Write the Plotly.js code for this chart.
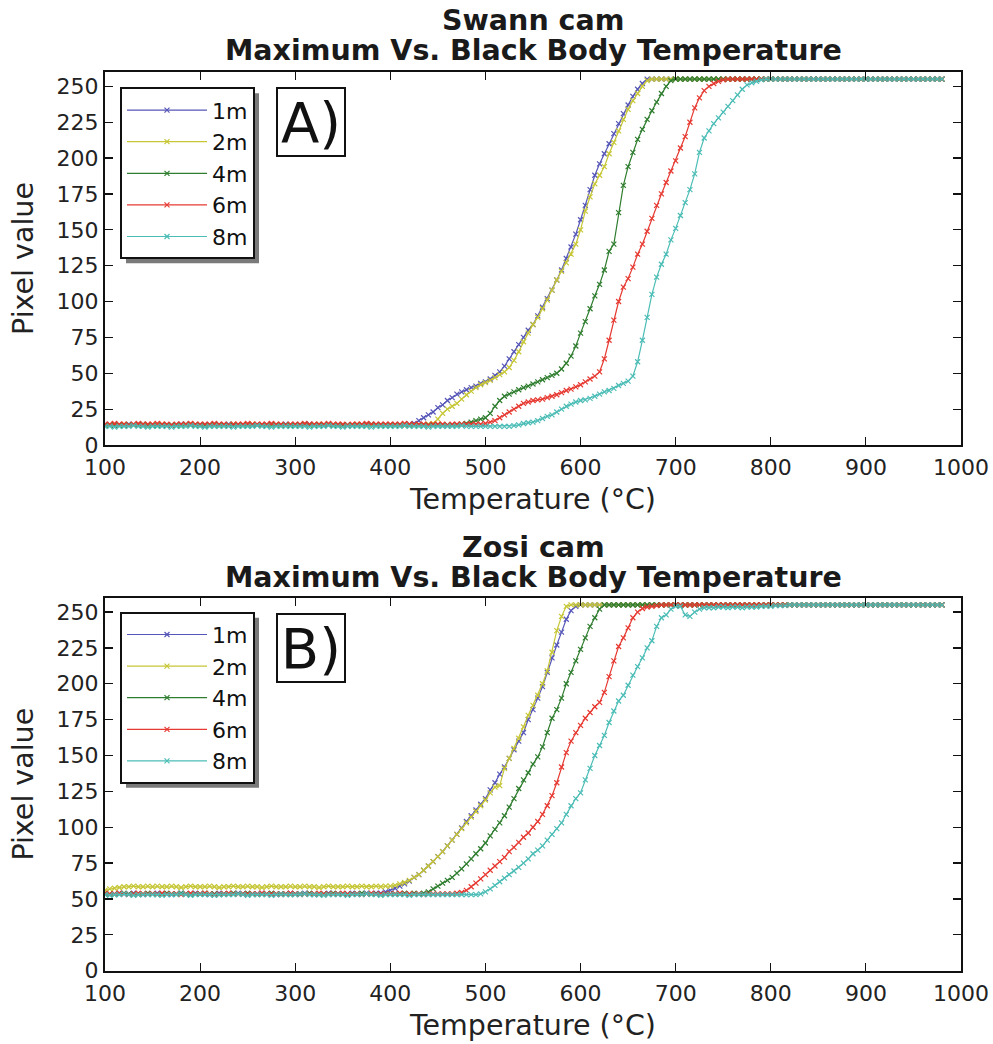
<!DOCTYPE html>
<html><head><meta charset="utf-8">
<script src="https://cdn.plot.ly/plotly-3.0.1.min.js"></script>
<style>html,body{margin:0;padding:0;background:#fff}#chart{width:993px;height:1044px}</style>
</head><body><div id="chart"></div>
<script>
// Temperature (°C), one reading every 5 °C
const temperature = [
100,105,110,115,120,125,130,135,140,145,
150,155,160,165,170,175,180,185,190,195,
200,205,210,215,220,225,230,235,240,245,
250,255,260,265,270,275,280,285,290,295,
300,305,310,315,320,325,330,335,340,345,
350,355,360,365,370,375,380,385,390,395,
400,405,410,415,420,425,430,435,440,445,
450,455,460,465,470,475,480,485,490,495,
500,505,510,515,520,525,530,535,540,545,
550,555,560,565,570,575,580,585,590,595,
600,605,610,615,620,625,630,635,640,645,
650,655,660,665,670,675,680,685,690,695,
700,705,710,715,720,725,730,735,740,745,
750,755,760,765,770,775,780,785,790,795,
800,805,810,815,820,825,830,835,840,845,
850,855,860,865,870,875,880,885,890,895,
900,905,910,915,920,925,930,935,940,945,
950,955,960,965,970,975,980];

const seriesNames = ["1m", "2m", "4m", "6m", "8m"];
const seriesColors = ["#5656b8", "#c6c636", "#2f7d2f", "#e63a32", "#4cbdb6"];

// ---------- A) Swann cam ----------
const swann1m = [
14,14,13.5,14,14,14.5,14,14,13.5,14,
14,14,14,13.5,14,14,14.5,14,14,14,
14,13.5,14,14,14,14,14.5,14,14,14,
14,14,14,14,13.5,14,14,14,14.5,14,
14,14,14,14.5,14,14,13.5,14,14,14,
14,14,14,14,14,14.5,14,14,14,14,
14,14,14,14,14.5,15,17,19,21,23,
26,28,31,33,35.5,37,38.5,40,41,43,
44,46,48.5,51,55,60,65,70,75,80,
84,90,96,102,108,115,122,130,138,147,
157,167,178,188,196,203,210,217,224,231,
237,243,248,252,255,255,255,255,255,255,
255,255,255,255,255,255,255,255,255,255,
255,255,255,255,255,255,255,255,255,255,
255,255,255,255,255,255,255,255,255,255,
255,255,255,255,255,255,255,255,255,255,
255,255,255,255,255,255,255,255,255,255,
255,255,255,255,255,255,255];
const swann2m = [
13.5,14,14,14,14.5,14,14,14,14,13.5,
14,14,14.5,14,14,14,13.5,14,14,14,
14,14,14,14,13.5,14,14,14.5,14,14,
14,14.5,14,14,14,14,14,13.5,14,14,
14,14,14,14,14,14.5,14,14,14,13.5,
14,14,14,14.5,14,14,14,14,14,14,
14,14,14,14,14,14,14,14,14.5,15,
18,22,25,27,29,32,35,37.5,40,42,
43.5,45,47,49,51,54,59,65,72,78,
84,89,95,101,108,115,121,127,133,140,
150,163,173,182,188,194,203,211,219,227,
234,240,245,250,254,255,255,255,255,255,
255,255,255,255,255,255,255,255,255,255,
255,255,255,255,255,255,255,255,255,255,
255,255,255,255,255,255,255,255,255,255,
255,255,255,255,255,255,255,255,255,255,
255,255,255,255,255,255,255,255,255,255,
255,255,255,255,255,255,255];
const swann4m = [
14,14,14,14,13.5,14,14,14,14.5,14,
14,13.5,14,14,14,14,14,14.5,14,14,
14,14,14,14.5,14,14,13.5,14,14,14,
14,14,14,14,14,14.5,14,14,14,13.5,
14,14,14.5,14,14,14,14,14,13.5,14,
14,14,14,14,14,14,14.5,14,14,14,
14,14,14,13.5,14,14,14,14,14,14,
14,14,14,14,14,14.5,15,16,17,18,
19,22,27,31,34,35.5,37,38.5,40,41,
42.5,44,45.5,47,48.5,50,53,57,62,69,
78,86,95,104,112,122,135,140,162,181,
194,204,213,220,227,233,239,245,250,254,
255,255,255,255,255,255,255,255,255,255,
255,255,255,255,255,255,255,255,255,255,
255,255,255,255,255,255,255,255,255,255,
255,255,255,255,255,255,255,255,255,255,
255,255,255,255,255,255,255,255,255,255,
255,255,255,255,255,255,255];
const swann6m = [
14.5,14.5,15,14.5,14.5,14,14.5,15,14.5,14.5,
14.5,15,14.5,14.5,14,14.5,14.5,14.5,15,14.5,
14.5,14.5,14.5,15,14.5,14.5,14,14.5,14.5,14.5,
15,14.5,14.5,14.5,14.5,15,14.5,14.5,14,14.5,
14.5,14.5,15,14.5,14.5,14.5,14.5,15,14.5,14.5,
14.5,14,14.5,14.5,14.5,15,14.5,14.5,14.5,14.5,
14.5,14.5,14.5,15,14.5,14.5,14.5,14.5,14,14.5,
14.5,14.5,14,14.5,14.5,14.5,14.5,14.5,14.5,14.5,
15,16,17,19,21,23,25,27,29,30,
31,31.5,32,33,34,35,36.5,38,39,40.5,
42,44,46,48,51,60,73,87,100,110,
116,124,133,140,149,158,167,175,183,191,
198,207,215,225,235,242,247,250,252,253.5,
254.5,255,255,255,255,255,255,255,255,255,
255,255,255,255,255,255,255,255,255,255,
255,255,255,255,255,255,255,255,255,255,
255,255,255,255,255,255,255,255,255,255,
255,255,255,255,255,255,255];
const swann8m = [
13,13,12.5,13,13,13,13.5,13,13,12.5,
13,13,13,13,12.5,13,13,13,13.5,13,
13,12.5,13,13,13,13,13,12.5,13,13,
13,13,13.5,13,13,12.5,13,13,13,13,
13,13,13,12.5,13,13,13,13.5,13,13,
12.5,13,13,13,13,13,12.5,13,13,13,
13,13,13,13.5,13,13,13,13,12.5,13,
13,13,13,13,13,13.5,13,13,13,13,
13,13,13,13,13,13,13.5,14,15,15.5,
16,17,18.5,20,21,23,25,27,28.5,30,
31,31.5,32.5,34,35.5,37,38,39.5,41.5,43,
44.5,48,58,73,89,105,117,126,133,143,
151,160,169,178,189,204,214,219,224,228,
232,236,240,244,248,251,252.5,253.5,254.5,255,
255,255,255,255,255,255,255,255,255,255,
255,255,255,255,255,255,255,255,255,255,
255,255,255,255,255,255,255,255,255,255,
255,255,255,255,255,255,255];

// ---------- B) Zosi cam ----------
const zosi1m = [
53.5,53,53.5,54,53.5,53.5,54,53.5,53,53.5,
53.5,54,53.5,53.5,53,53.5,54,53.5,53.5,54,
53.5,53.5,53,53.5,54,53.5,53.5,53.5,54,53.5,
53,53.5,53.5,54,53.5,53.5,53,53.5,53.5,54,
53.5,53.5,54,53.5,53,53.5,53.5,54,53.5,53.5,
53.5,53.5,54,53.5,53.5,54,53.5,54,54,55,
56,57.5,59,60.5,62.5,65,67,70,73,76,
79.5,83,87,91,95,99.5,104,108,112,116,
120,126,131,137,142,148,154,160,166,175,
182,190,198,208,218,227,236,245,251,254,
255,255,255,255,255,255,255,255,255,255,
255,255,255,255,255,255,255,255,255,255,
255,255,255,255,255,255,255,255,255,255,
255,255,255,255,255,255,255,255,255,255,
255,255,255,255,255,255,255,255,255,255,
255,255,255,255,255,255,255,255,255,255,
255,255,255,255,255,255,255,255,255,255,
255,255,255,255,255,255,255];
const zosi2m = [
56,57,57.5,58,58.5,58.5,59,58.5,58.5,59,
58.5,59,58.5,58.5,59,58.5,58,58.5,59,58.5,
58.5,58.5,59,58.5,58,58.5,58.5,59,58.5,58.5,
59,58.5,58.5,58,58.5,59,58.5,58.5,58.5,59,
58.5,58.5,59,58.5,58.5,58,58.5,59,58.5,58.5,
58.5,59,58.5,58.5,59,58.5,58.5,59,58.5,59,
59,59.5,60.5,61.5,63,65,67,70,73,76,
79.5,83,87,91,95,99,103,107,111,115,
119,124,128,129,141,148,155,162,170,178,
185,192,200,209,222,237,247,254,255,255,
255,255,255,255,255,255,255,255,255,255,
255,255,255,255,255,255,255,255,255,255,
255,255,255,255,255,255,255,255,255,255,
255,255,255,255,255,255,255,255,255,255,
255,255,255,255,255,255,255,255,255,255,
255,255,255,255,255,255,255,255,255,255,
255,255,255,255,255,255,255,255,255,255,
255,255,255,255,255,255,255];
const zosi4m = [
53.5,53.5,53,53.5,54,53.5,53.5,53,53.5,54,
53.5,53,53.5,54,53.5,53.5,54,53.5,53,53.5,
53.5,54,53.5,53.5,53,53.5,53.5,54,53.5,53.5,
54,53.5,53,53.5,53.5,54,53.5,53.5,53.5,53,
53.5,53.5,53.5,54,53.5,53,53.5,53.5,54,53.5,
53.5,53,53.5,53.5,54,53.5,53.5,53.5,53,53.5,
53.5,53.5,53.5,54,53.5,54,53.5,54,55,57,
59,61,63,65,68,71,74.5,78,81.5,85,
89,94,98.5,103,108,114,120,127,133,138,
144,149,156,166,176,182,190,200,208,216,
224,232,240,246,252,255,255,255,255,255,
255,255,255,255,255,255,255,255,255,255,
255,255,255,255,255,255,255,255,255,255,
255,255,255,255,255,255,255,255,255,255,
255,255,255,255,255,255,255,255,255,255,
255,255,255,255,255,255,255,255,255,255,
255,255,255,255,255,255,255,255,255,255,
255,255,255,255,255,255,255];
const zosi6m = [
54,53.5,53.5,54,53.5,53,53.5,54,53.5,53.5,
53.5,53.5,54,53.5,53.5,53.5,53,53.5,54,53.5,
53.5,54,53.5,53,53.5,53.5,54,53.5,53.5,53.5,
53.5,53.5,53.5,54,53.5,53.5,53.5,53,53.5,54,
53.5,53,53.5,53.5,53.5,54,53.5,53.5,53.5,53.5,
54,53.5,53.5,53.5,53,53.5,54,53.5,53.5,53.5,
53.5,53.5,54,53.5,53.5,53.5,53.5,53,53.5,53.5,
53.5,53.5,53.5,53.5,54,54.5,56,58.5,61,64,
67,70,73,76,79,83,86,89.5,93,96,
100,104,109,115,122,131,142,152,160,166,
171,176,180,184,187,194,205,216,226,232,
239,246,250,252.5,253.5,254,254.5,255,255,255,
255,255,255,255,255,255,255,255,255,255,
255,255,255,255,255,255,255,255,255,255,
255,255,255,255,255,255,255,255,255,255,
255,255,255,255,255,255,255,255,255,255,
255,255,255,255,255,255,255,255,255,255,
255,255,255,255,255,255,255];
const zosi8m = [
53,52.5,53,53,53.5,53,52.5,53,53,53,
53,53,52.5,53,53,53,53.5,53,52.5,53,
53,53,53,52.5,53,53,53,53,53.5,53,
52.5,53,53,53,53,52.5,53,53,53,53,
53,53,53.5,53,53,53,52.5,53,53,53,
53,52.5,53,53,53,53.5,53,53,52.5,53,
53,53,53,53,52.5,53,53,53,53,53,
53,53,53,53,53,53,53,53,53,53.5,
55,57,59.5,62,64.5,67,69.5,72,75,78,
81.5,84,87,91,95,99,103,109,115,120,
124,133,141,150,157,164,173,181,188,192,
199,206,212,218,225,230,240,246,248,252,
254,254,248,247,250,252,253,253,253,253.5,
253.5,253,253.5,253.5,253,253.5,253.5,253.5,254,254,
254,254.5,254.5,254.5,255,255,255,255,255,255,
255,255,255,255,255,255,255,255,255,255,
255,255,255,255,255,255,255,255,255,255,
255,255,255,255,255,255,255];

const swannSeries = [swann1m, swann2m, swann4m, swann6m, swann8m];
const zosiSeries = [zosi1m, zosi2m, zosi4m, zosi6m, zosi8m];

const xTicks = [100, 200, 300, 400, 500, 600, 700, 800, 900, 1000];
const yTicks = [0, 25, 50, 75, 100, 125, 150, 175, 200, 225, 250];

const titleLine1A = "Swann cam";
const titleLine1B = "Zosi cam";
const titleLine2 = "Maximum Vs. Black Body Temperature";
const xTitle = "Temperature (°C)";
const yTitle = "Pixel value";
const panelA = "A)";
const panelB = "B)";

// ---------- build ----------
const FONT = "DejaVu Sans, Verdana, sans-serif";
const traces = [];
function addSeries(list, xa, ya, leg) {
  list.forEach((vals, i) => {
    traces.push({
      type: "scatter", mode: "lines+markers",
      x: temperature, y: vals, name: seriesNames[i],
      xaxis: xa, yaxis: ya, legend: leg,
      line: {color: seriesColors[i], width: 1.2},
      marker: {symbol: "x-thin", size: 5, color: seriesColors[i], line: {color: seriesColors[i], width: 1.2}}
    });
  });
}
addSeries(swannSeries, "x", "y", "legend");
addSeries(zosiSeries, "x2", "y2", "legend2");

const W = 993, H = 1044, ML = 105, MR = 32;
const PW = W - ML - MR;
const px = v => (v - ML) / PW;
const py = v => 1 - v / H;

function xAxis(anchor) {
  return {
    anchor: anchor, domain: [0, 1], range: [100, 1000], tickvals: xTicks,
    ticks: "inside", ticklen: 8, tickwidth: 1.2, tickcolor: "#111",
    showline: true, linecolor: "#111", linewidth: 2, mirror: "ticks",
    showgrid: false, zeroline: false, ticklabelstandoff: 2,
    tickfont: {family: FONT, size: 22, color: "#222"},
    title: {text: xTitle, font: {family: FONT, size: 28.5, color: "#222"}, standoff: 10}
  };
}
function yAxis(anchor, dom) {
  return {
    anchor: anchor, domain: dom, range: [0, 260], tickvals: yTicks,
    ticks: "inside", ticklen: 8, tickwidth: 1.2, tickcolor: "#111",
    showline: true, linecolor: "#111", linewidth: 2, mirror: "ticks",
    showgrid: false, zeroline: false,
    tickfont: {family: FONT, size: 22, color: "#222"},
    title: {text: yTitle, font: {family: FONT, size: 28.5, color: "#222"}, standoff: 15}
  };
}
function legendAt(topPx) {
  return {
    x: px(120), y: py(topPx), xanchor: "left", yanchor: "top",
    bgcolor: "#fff", bordercolor: "#111", borderwidth: 2,
    font: {family: FONT, size: 22, color: "#111"},
    itemwidth: 80, tracegroupgap: 0
  };
}
function titleAnn(text, yPx) {
  return {text: text, xref: "paper", yref: "paper", x: 0.5, y: py(yPx),
    xanchor: "center", yanchor: "middle", showarrow: false,
    font: {family: FONT, size: 28.5, color: "#1a1a1a", weight: "bold"}};
}
function panelAnn(text, cyPx) {
  return {text: text, xref: "paper", yref: "paper", x: px(310.5), y: py(cyPx),
    xanchor: "center", yanchor: "middle", showarrow: false,
    width: 64, height: 64, borderpad: 1, bordercolor: "#111", borderwidth: 2, bgcolor: "#fff",
    font: {family: FONT, size: 56, color: "#111"}};
}

const layout = {
  width: W, height: H, margin: {l: ML, r: MR, t: 0, b: 0},
  paper_bgcolor: "#fff", plot_bgcolor: "#fff",
  font: {family: FONT, color: "#222"},
  showlegend: true,
  xaxis: xAxis("y"), yaxis: yAxis("x", [py(445), py(72)]),
  xaxis2: xAxis("y2"), yaxis2: yAxis("x2", [py(970.7), py(597.7)]),
  legend: legendAt(87.3), legend2: legendAt(611.7),
  annotations: [
    titleAnn(titleLine1A, 20), titleAnn(titleLine2, 51),
    titleAnn(titleLine1B, 547), titleAnn(titleLine2, 577),
    panelAnn(panelA, 122), panelAnn(panelB, 647.7)
  ]
};

Plotly.newPlot("chart", traces, layout, {staticPlot: true, displayModeBar: false}).then(gd => {
  // drop shadow behind each legend box, sized from the drawn legend
  const root = gd.getBoundingClientRect();
  const shapes = [];
  ["legend", "legend2"].forEach(id => {
    const r = gd.querySelector(".infolayer g." + id + " > rect.bg") || gd.querySelector("g." + id + " rect.bg");
    if (!r) return;
    const b = r.getBoundingClientRect();
    const l = b.left - root.left, t = b.top - root.top;
    shapes.push({type: "rect", xref: "paper", yref: "paper", layer: "above",
      x0: px(l + 5), x1: px(l + b.width + 5), y0: py(t + b.height + 5), y1: py(t + 5),
      fillcolor: "#7a7a7a", line: {width: 0}});
  });
  return Plotly.relayout(gd, {shapes: shapes});
});
</script></body></html>
